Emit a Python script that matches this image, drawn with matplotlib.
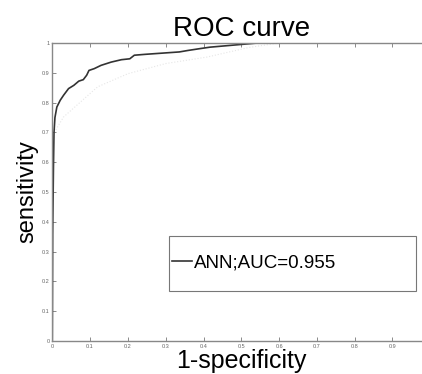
import matplotlib.pyplot as plt
from matplotlib.patches import Rectangle

# ROC curve (1-specificity, sensitivity)
fpr = [0.0, 0.001, 0.003, 0.0045, 0.007, 0.012, 0.021, 0.03, 0.043, 0.057,
       0.07, 0.082, 0.091, 0.097, 0.111, 0.129, 0.156, 0.183, 0.205, 0.217,
       0.246, 0.291, 0.336, 0.359, 0.39, 0.417, 0.471, 0.516, 0.543, 0.606, 1.0]
tpr = [0.0, 0.36, 0.58, 0.70, 0.75, 0.785, 0.808, 0.825, 0.847, 0.858,
       0.872, 0.877, 0.892, 0.908, 0.914, 0.925, 0.936, 0.944, 0.947, 0.959,
       0.962, 0.966, 0.970, 0.975, 0.981, 0.986, 0.992, 0.997, 1.0, 1.0, 1.0]

# faint second trace behind the main one
fpr_faint = [0.005, 0.03, 0.12, 0.20, 0.30, 0.41, 0.52, 0.60]
tpr_faint = [0.70, 0.752, 0.853, 0.897, 0.931, 0.953, 0.985, 1.0]

legend_label = "ANN;AUC=0.955"
xticks = [0, 0.1, 0.2, 0.3, 0.4, 0.5, 0.6, 0.7, 0.8, 0.9]
xtick_labels = ["0", "0.1", "0.2", "0.3", "0.4", "0.5", "0.6", "0.7", "0.8", "0.9"]
yticks = [0, 0.1, 0.2, 0.3, 0.4, 0.5, 0.6, 0.7, 0.8, 0.9, 1]
ytick_labels = ["0", "0.1", "0.2", "0.3", "0.4", "0.5", "0.6", "0.7", "0.8", "0.9", "1"]

plt.rcParams['font.family'] = ['Liberation Sans', 'DejaVu Sans']

fig = plt.figure(figsize=(4.22, 3.74), dpi=100)
# axes runs past the right edge of the figure, like the cropped original
ax = fig.add_axes([52.3 / 422, 33 / 374, 378 / 422, 298 / 374])

ax.plot(fpr_faint, tpr_faint, color='#e6e6e6', lw=0.8, ls=':')
ax.plot(fpr, tpr, color='#333333', lw=1.2, label=legend_label)

ax.set_xlim(0, 1)
ax.set_ylim(0, 1)
ax.set_xticks(xticks)
ax.set_xticklabels(xtick_labels)
ax.set_yticks(yticks)
ax.set_yticklabels(ytick_labels)
ax.tick_params(direction='in', length=3, width=0.6, colors='#777777',
               labelsize=4, labelcolor='#666666', pad=2, top=True)
for s in ax.spines.values():
    s.set_color('#888888')
    s.set_linewidth(1.0)

ax.set_title("ROC curve", fontsize=20, pad=5)
ax.set_xlabel("1-specificity", fontsize=18, labelpad=0)
ax.set_ylabel("sensitivity", fontsize=17, labelpad=2)

# MATLAB-style legend box: wide frame, entry hugging the left side
ax.add_patch(Rectangle((0.309, 0.168), 0.653, 0.184, transform=ax.transAxes,
                       facecolor='white', edgecolor='#777777', lw=0.8, zorder=3))
leg = ax.legend(loc='center left', bbox_to_anchor=(0.316, 0.262), fontsize=13.5,
                frameon=False, handlelength=1.1, handletextpad=0.1,
                borderpad=0, borderaxespad=0)
leg.set_zorder(4)

fig.savefig("out.png", dpi=100)
